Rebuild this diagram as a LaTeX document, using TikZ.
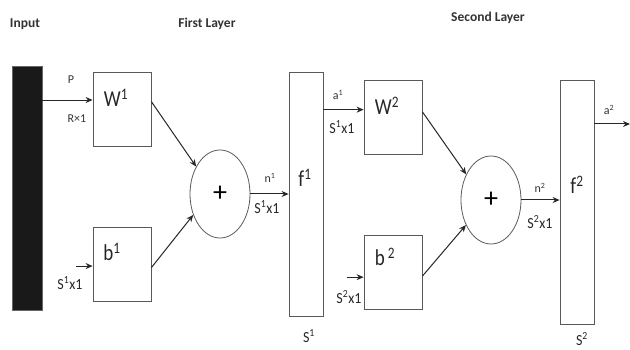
\documentclass[tikz,border=0pt]{standalone}
\usepackage{fontspec}
\setmainfont{Carlito}
\usetikzlibrary{positioning,arrows.meta,shapes.geometric}

\tikzset{
  box/.style={draw=black!65,line width=0.8pt,minimum width=58pt,minimum height=74pt,inner sep=0pt},
  tall/.style={draw=black!65,line width=0.8pt,minimum width=34pt,minimum height=244pt,inner sep=0pt},
  sum/.style={draw=black!65,line width=0.8pt,ellipse,minimum width=60pt,minimum height=88pt,inner sep=0pt,font=\fontsize{28}{28}\selectfont},
  arr/.style={-{Stealth[length=7pt,width=6pt]},line width=1pt,black!85},
  big/.style={font=\fontsize{19}{19}\selectfont,yscale=1.2,transform shape,text=black!85},
  lbl/.style={font=\fontsize{14}{14}\selectfont,yscale=1.1,transform shape,text=black!85},
  sml/.style={font=\fontsize{12}{12}\selectfont,text=black!80},
  ttl/.style={font=\bfseries\fontsize{13.5}{13.5}\selectfont,text=black!80}
}

\begin{document}
\begin{tikzpicture}[x=1pt,y=-1pt]
  \useasboundingbox (0,0) rectangle (630,350);
  \node[ttl] at (25,24){Input};
  \node[ttl] at (207,24){First Layer};
  \node[ttl] at (488,18){Second Layer};

  \node[fill=black!90,draw=black!60,minimum width=30pt,minimum height=244pt,inner sep=0pt] (inp) at (27,188){};
  \begin{scope}
    \node[box] (W1) at (122,109){}; \node[box] (b1) at (122,264){};
    \node[sum] (s1) at (220,194){+}; \node[tall] (f1) at (306,194){};
    \node[big] at (116,98){W\textsuperscript{1}};
    \node[big] at (112,252){b\textsuperscript{1}};
    \node[big] at (305,178){f\textsuperscript{1}};
    \draw[arr] (W1.14) -- (s1.131); \draw[arr] (b1.353) -- (s1.218);
    \draw[arr] ([xshift=-17pt]b1.184) -- (b1.184);
    \draw[arr] (s1.east) -- (f1.west |- s1.east);
    \node[lbl] at (70,283){S\textsuperscript{1}x1};
    \node[sml] at (270,178){n\textsuperscript{1}};
    \node[lbl] at (267,207){S\textsuperscript{1}x1};
    \node[lbl] at (309,336){S\textsuperscript{1}};
  \end{scope}
  \begin{scope}[shift={(271,8)}]
    \node[box] (W2) at (122,109){}; \node[box] (b2) at (122,264){};
    \node[sum] (s2) at (220,192){+}; \node[tall] (f2) at (306,194){};
    \node[big] at (116,98){W\textsuperscript{2}};
    \node[big] at (114,249){b\,\textsuperscript{2}};
    \node[big] at (306,177){f\textsuperscript{2}};
    \draw[arr] (W2.10) -- (s2.134); \draw[arr] (b2.352) -- (s2.225);
    \draw[arr] ([xshift=-17pt]b2.190) -- (b2.190);
    \draw[arr] (s2.east) -- (f2.west |- s2.east);
    \node[lbl] at (78,289){S\textsuperscript{2}x1};
    \node[sml] at (269,180){n\textsuperscript{2}};
    \node[lbl] at (269,214){S\textsuperscript{2}x1};
    \node[lbl] at (311,331){S\textsuperscript{2}};
  \end{scope}

  \draw[arr] (inp.east |- W1.163) -- (W1.163);
  \node[sml] at (71,80){P}; \node[sml] at (77,119){R×1};
  \draw[arr] (f1.east |- W2.166) -- (W2.166);
  \node[sml] at (338,95){a\textsuperscript{1}}; \node[lbl] at (342,127){S\textsuperscript{1}x1};
  \coordinate (out) at (630,124);
  \draw[arr] (f2.east |- out) -- (out);
  \node[sml] at (609,110){a\textsuperscript{2}};
\end{tikzpicture}
\end{document}
